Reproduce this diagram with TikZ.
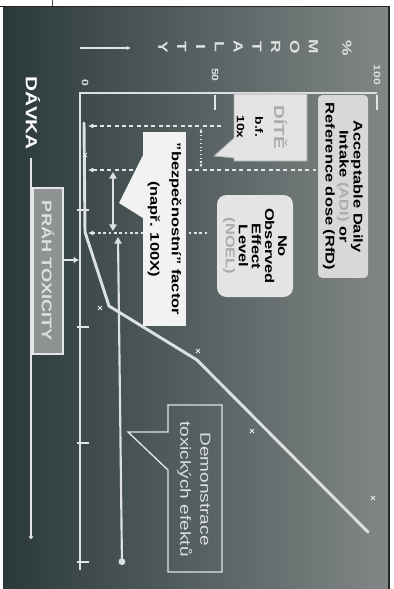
\documentclass[tikz,border=0pt]{standalone}
\usepackage{fontspec}
\setmainfont{Liberation Sans}[FakeStretch=1.3]
\usepackage{xcolor}
\usepackage{tikz}
\usetikzlibrary{arrows.meta,positioning}
\definecolor{txdark}{HTML}{2B393A}
\definecolor{txlight}{HTML}{818787}
\definecolor{txline}{HTML}{DCE0E0}
\definecolor{txfaint}{HTML}{A8ACAC}
\definecolor{txbox}{HTML}{E4E4E4}
\definecolor{txadi}{HTML}{D8D8D8}
\definecolor{txprah}{HTML}{8E9292}
\tikzset{
  vlabel/.style={rotate=-90,inner sep=0pt,align=center},
  boxtext/.style={vlabel,font=\bfseries\fontsize{9.5}{10.5}\selectfont,text=black},
  infobox/.style={boxtext,fill=txbox,rounded corners=6pt},
  axistext/.style={vlabel,font=\bfseries\fontsize{10}{11}\selectfont,text=txline},
  ticktext/.style={vlabel,font=\bfseries\fontsize{7}{8}\selectfont,text=txline},
  axisline/.style={draw=txline,line width=1.3pt},
  tickline/.style={draw=txline!80,line width=1.6pt},
  doseline/.style={draw=txline,line width=2.2pt,line join=round,line cap=round},
  guide/.style={draw=txline!80,line width=1.1pt,dash pattern=on 3pt off 2.5pt},
  dirline/.style={draw=txline!85,line width=.8pt},
  bigarrow/.style={draw=txline,line width=1.6pt},
  ptmark/.style={draw=txline!70,line width=.7pt},
  calloutbox/.style={fill=txbox,draw=txfaint,line width=.6pt}
}
\begin{document}
\begin{tikzpicture}[x=0.75pt,y=-0.75pt]
  \useasboundingbox (0,0) rectangle (393,589);
  \fill[white] (0,0) rectangle (393,589);
  % panel
  \fill[left color=txdark,right color=txlight] (3,7) rectangle (389,589);
  \draw[black!85,line width=1.2pt] (0,6.5) -- (389,6.5) -- (389,589);
  \draw[black!70,line width=.6pt] (52,0) -- (52,6);

  % axes
  \coordinate (origin) at (80,93);
  \coordinate (mort100) at (377,93);
  \coordinate (doseend) at (80,570);
  \draw[axisline] (mort100) -- (origin) -- (doseend);
  \foreach \mx/\ml in {215/50,377/100} {
    \draw[tickline,line width=1.2pt] (\mx,95) -- (\mx,110);
    \node[ticktext] (tick\ml) at (\mx,75) {\ml};
  }
  \node[ticktext] (tick0) at (85,83) {0};
  \foreach \dy in {210,327,443,562}
    \draw[tickline] (77,\dy) -- (89,\dy);

  % axis titles
  \coordinate (mdir0) at (80,48);
  \coordinate (mdir1) at (131,48);
  \draw[dirline,-{Latex[length=3pt,width=3pt]}] (mdir0) -- (mdir1);
  \foreach \ch [count=\i from 0] in {Y,T,I,L,A,T,R,O,M}
    \node[axistext] (mort\i) at ({163+18.8*\i},47) {\ch};
  \node[axistext] (pct) at (347,48) {\%};
  \node[axistext,font=\bfseries\fontsize{12}{13}\selectfont,text=white] (davka) at (33,113) {DÁVKA};
  \coordinate (ddir0) at (31,158);
  \coordinate (ddir1) at (31,539);
  \draw[dirline,-{Circle[length=3pt]}] (ddir0) -- (ddir1);

  % threshold
  \node[vlabel,fill=txprah,draw=txline!80,line width=.8pt,minimum width=124.5pt,minimum height=22.5pt,
    font=\bfseries\fontsize{10.5}{11}\selectfont,text=txline] (prah) at (48,271) {PRÁH TOXICITY};
  \coordinate (prahtip) at (79,260);
  \draw[dirline,line width=1.4pt,-{Latex[length=4pt,width=5pt]}] (prah.north |- prahtip) -- (prahtip);

  % dose response
  \draw[doseline] (84,123) -- (85,232) -- (109,306) -- (197,360) -- (368,532);
  \foreach \px/\py in {85/155,100/308,198/351,252/431,373/498}
    \draw[ptmark] (\px-2,\py-2) -- (\px+2,\py+2) (\px-2,\py+2) -- (\px+2,\py-2);

  % levels
  \coordinate (childlvl) at (88,126);
  \coordinate (adilvl) at (88,170);
  \coordinate (noellvl) at (88,233);
  \coordinate (childend) at (222,126);
  \coordinate (adiend) at (316,170);
  \coordinate (noelend) at (208,233);
  \draw[guide,{Latex[length=4pt,width=4pt]}-] (childlvl) -- (childend);
  \draw[guide,line width=.8pt,{Latex[length=4pt,width=4pt]}-] (adilvl) -- (adiend);
  \draw[guide,line width=.8pt,dash pattern=on 2pt off 2pt,{Latex[length=4pt,width=4pt]}-] (noellvl) -- (noelend);
  \coordinate (bfa) at (201,128);
  \coordinate (bfb) at (201,168);
  \draw[dirline,dotted,{Latex[length=3pt]}-{Latex[length=3pt]}] (bfa) -- (bfb);
  \coordinate (sfa) at (113,172);
  \coordinate (sfb) at (113,231);
  \draw[bigarrow,{Triangle[length=5pt,width=5.5pt]}-{Triangle[length=5pt,width=5.5pt]}] (sfa) -- (sfb);
  \coordinate (demotop) at (118,237);
  \coordinate (demoend) at (122,565);
  \draw[bigarrow,{Circle[length=5pt]}-{Triangle[length=5pt,width=5.5pt]}] (demoend) -- (demotop);

  % callouts
  \draw[calloutbox] (234,94) -- (307,94) -- (307,161) -- (234,161) -- (234,158) -- (214,156) -- (234,138) -- cycle;
  \node[boxtext,font=\bfseries\fontsize{8}{14}\selectfont] (dite) at (262,127)
    {{\fontsize{11}{14}\selectfont\color{txfaint}DÍTĚ}\\b.f.\\10x};
  \node[infobox,fill=txadi,rounded corners=3pt,minimum width=137pt,minimum height=37.5pt] (adi) at (343,186.5)
    {Acceptable Daily\\Intake {\color{txfaint}(ADI)} or\\Reference dose (RfD)};
  \node[infobox,rounded corners=7pt,minimum width=76.5pt,minimum height=57pt,
    font=\bfseries\fontsize{9.5}{9.8}\selectfont] (noel) at (255,246)
    {No\\Observed\\Effect\\Level\\{\color{txfaint}(NOEL)}};
  \fill[white!95!black] (143,155) -- (119,203) -- (143,218) -- cycle;
  \node[boxtext,fill=white!95!black,minimum width=145.5pt,minimum height=32pt,
    font=\bfseries\fontsize{9.5}{16}\selectfont] (safety) at (164.5,229)
    {"bezpečnostní" factor\\(např. 100X)};
  \draw[txline!85,line width=1pt] (168,405) -- (222,405) -- (222,572) -- (168,572) -- (168,470) -- (128,432) -- (168,432) -- cycle;
  \node[vlabel,font=\fontsize{11}{15}\selectfont,text=txline] (demo) at (194,489) {Demonstrace\\toxických efektů};
\end{tikzpicture}
\end{document}
